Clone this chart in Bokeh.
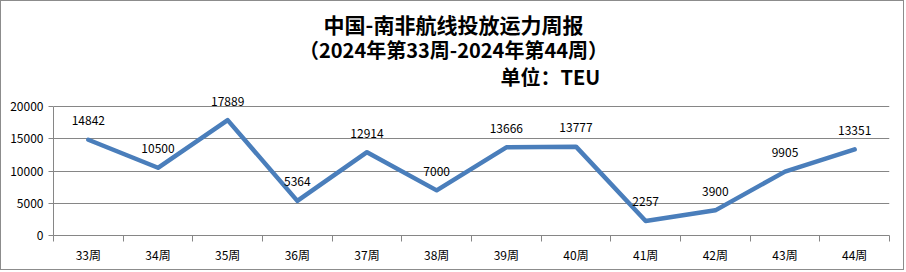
from bokeh.plotting import figure
from bokeh.models import (FactorRange, Range1d, LinearAxis, FixedTicker,
                          Label, ColumnDataSource, Grid)
from bokeh.core.properties import value
from bokeh.embed import file_html
from bokeh.resources import INLINE

weeks = ["33周", "34周", "35周", "36周", "37周", "38周", "39周", "40周", "41周", "42周", "43周", "44周"]
capacity = [14842, 10500, 17889, 5364, 12914, 7000, 13666, 13777, 2257, 3900, 9905, 13351]
y_ticks = [0, 5000, 10000, 15000, 20000]
title_lines = ["中国-南非航线投放运力周报", "（2024年第33周-2024年第44周）", "单位：TEU"]

FONT = "Noto Sans CJK SC"
GRAY = "#868686"
LINE = "#4a7ebb"

# frame runs from the canvas top down to the x axis; the value axis itself spans 0..20000
FRAME_H = 234      # px, frame height
AXIS_H = 129       # px, height of the 0..20000 band
y_max = max(y_ticks)

src = ColumnDataSource(dict(week=weeks, cap=capacity, lab=[str(v) for v in capacity]))

p = figure(width=904, height=270, output_backend="svg", toolbar_location=None,
           x_range=FactorRange(factors=weeks, range_padding=0),
           y_range=Range1d(0, y_max * FRAME_H / AXIS_H),
           x_axis_location=None, y_axis_location=None,
           min_border_left=52, min_border_right=16, min_border_top=0, min_border_bottom=36)
p.styles = {"border": "1px solid #8c8c8c"}
p.outline_line_color = None
p.background_fill_color = "white"
p.border_fill_color = "white"
p.center = []

# y axis
yax = LinearAxis(ticker=FixedTicker(ticks=y_ticks), bounds=(0, y_max))
yax.axis_line_color = GRAY
yax.major_tick_line_color = GRAY
yax.major_tick_out = 5
yax.major_tick_in = 0
yax.minor_tick_line_color = None
yax.major_label_text_font = FONT
yax.major_label_text_font_size = "12px"
yax.major_label_text_color = "black"
yax.major_label_standoff = 5
p.add_layout(yax, "left")

# x axis: labels at category centres, tick marks at category boundaries
# (the factor range maps category i to the span i..i+1)
centres = [i + 0.5 for i in range(len(weeks))]
bounds_ticks = list(range(len(weeks) + 1))
xax = LinearAxis(ticker=FixedTicker(ticks=centres, minor_ticks=bounds_ticks))
xax.major_label_overrides = {c: w for c, w in zip(centres, weeks)}
xax.axis_line_color = GRAY
xax.major_tick_line_color = None
xax.major_tick_out = 6
xax.major_tick_in = 0
xax.minor_tick_line_color = GRAY
xax.minor_tick_out = 6
xax.minor_tick_in = 0
xax.major_label_text_font = FONT
xax.major_label_text_font_size = "12px"
xax.major_label_text_color = "black"
xax.major_label_standoff = 4
p.add_layout(xax, "below")

g = Grid(dimension=1, ticker=yax.ticker, grid_line_color=GRAY, grid_line_width=1)
p.add_layout(g)

p.line("week", "cap", source=src, line_color=LINE, line_width=4.5,
       line_cap="round", line_join="round")
p.text("week", "cap", text="lab", source=src, y_offset=-19,
       text_align="center", text_baseline="middle",
       text_font=value(FONT), text_font_size="12px", text_color="black")

# titles (screen units relative to frame bottom-left)
for txt, x, y, align, size in [(title_lines[0], 400, 212, "center", "21px"),
                               (title_lines[1], 400, 186, "center", "20px"),
                               (title_lines[2], 447, 159, "left", "20px")]:
    p.add_layout(Label(x=x, y=y, x_units="screen", y_units="screen", text=txt,
                       text_align=align, text_baseline="middle", text_font=FONT,
                       text_font_size=size, text_font_style="bold", text_color="black"))

open("out.html", "w").write(file_html(p, INLINE))
